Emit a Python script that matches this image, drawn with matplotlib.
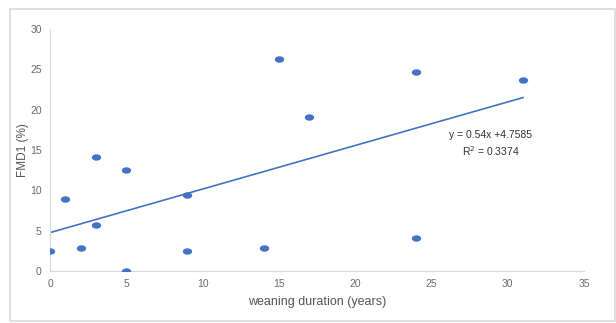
import numpy as np
import matplotlib.pyplot as plt
from matplotlib.patches import Rectangle

plt.rcParams['font.family'] = ['Liberation Sans', 'DejaVu Sans']

# data
weaning_years = [0, 1, 2, 3, 3, 5, 5, 9, 9, 14, 15, 17, 24, 24, 31]
fmd1_pct = [2.5, 8.9, 2.85, 14.1, 5.7, 12.5, 0.0, 9.4, 2.5, 2.85, 26.3, 19.1, 24.7, 4.1, 23.7]
slope, intercept = 0.54, 4.7585
r_squared = 0.3374
x_ticks = [0, 5, 10, 15, 20, 25, 30, 35]
y_ticks = [0, 5, 10, 15, 20, 25, 30]

blue = '#4472C4'
gray = '#6b6b6b'

# slightly wide dot, like the stretched original
t = np.linspace(0, 2 * np.pi, 40)
ellipse = np.column_stack([1.45 * np.cos(t), np.sin(t)])

fig = plt.figure(figsize=(6.16, 3.23), dpi=100)
fig.add_artist(Rectangle((10 / 616, 2 / 323), 605 / 616, 312 / 323, transform=fig.transFigure,
                         fill=False, edgecolor='#d9d9d9', linewidth=1.2))

ax = fig.add_axes([50 / 616, 52 / 323, 534 / 616, 242 / 323])
ax.scatter(weaning_years, fmd1_pct, s=45, marker=ellipse, color=blue, zorder=3, linewidths=0)

xs = np.array([min(weaning_years), max(weaning_years)])
ax.plot(xs, slope * xs + intercept, color=blue, linewidth=1.2)

ax.text(0.825, 0.525, f'y = {slope}x +{intercept}\nR$^2$ = {r_squared}', transform=ax.transAxes,
        ha='center', va='center', fontsize=7.5, color='#333333', linespacing=1.35)

ax.set_xlim(0, 35)
ax.set_ylim(0, 30)
ax.set_xticks(x_ticks)
ax.set_yticks(y_ticks)
ax.tick_params(length=0, labelsize=7.5, colors=gray, pad=6)
for side in ['top', 'right']:
    ax.spines[side].set_visible(False)
for side in ['left', 'bottom']:
    ax.spines[side].set_color('#d9d9d9')

ax.set_xlabel('weaning duration (years)', fontsize=9, color='#555555', labelpad=5)
ax.set_ylabel('FMD1 (%)', fontsize=8.5, color='#555555', labelpad=1)

plt.savefig('out.png', dpi=100)
